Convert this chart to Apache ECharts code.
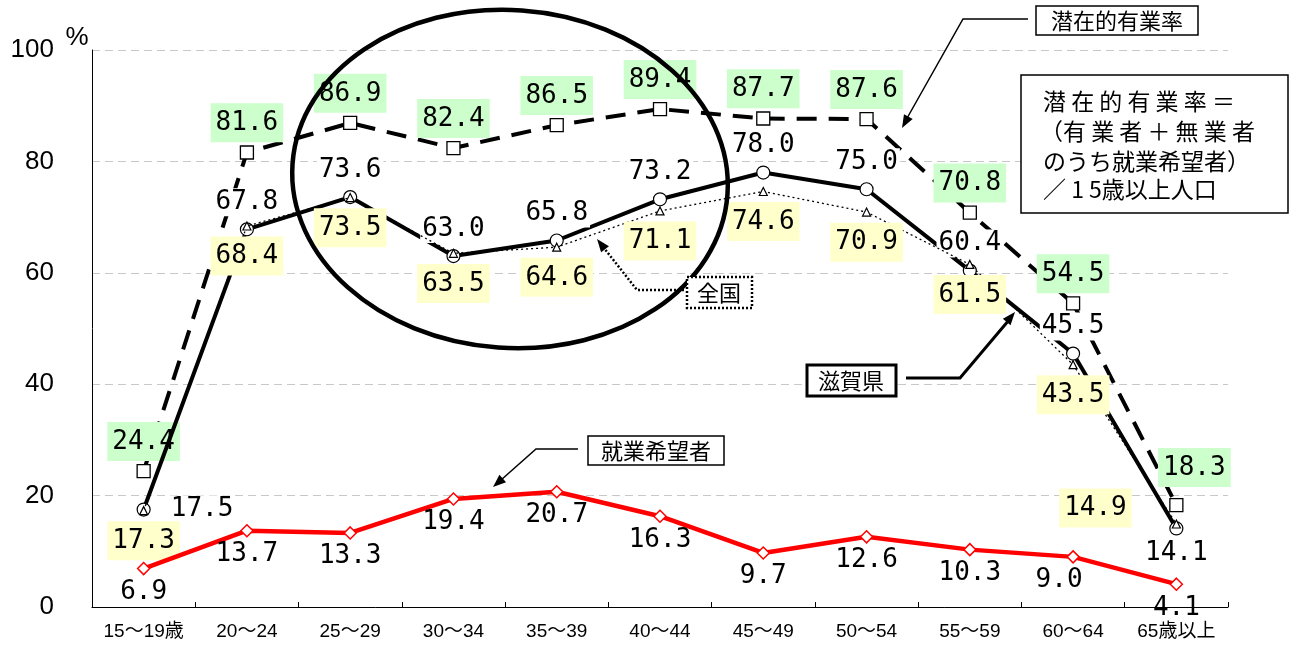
<!DOCTYPE html>
<html>
<head>
<meta charset="utf-8">
<title>潜在的有業率</title>
<script src="https://cdn.jsdelivr.net/npm/echarts@6/dist/echarts.min.js"></script>
<style>
  html, body { margin: 0; padding: 0; background: #fff; }
  #main { width: 1296px; height: 648px; }
</style>
</head>
<body>
<div id="main"></div>
<script>
// 年齢階級
var ages = ['15～19歳', '20～24', '25～29', '30～34', '35～39', '40～44', '45～49', '50～54', '55～59', '60～64', '65歳以上'];
// 潜在的有業率
var potential = [24.4, 81.6, 86.9, 82.4, 86.5, 89.4, 87.7, 87.6, 70.8, 54.5, 18.3];
// 滋賀県 有業率
var shiga = [17.5, 67.8, 73.6, 63.0, 65.8, 73.2, 78.0, 75.0, 60.4, 45.5, 14.1];
// 全国 有業率
var national = [17.3, 68.4, 73.5, 63.5, 64.6, 71.1, 74.6, 70.9, 61.5, 43.5, 14.9];
// 就業希望者
var seekers = [6.9, 13.7, 13.3, 19.4, 20.7, 16.3, 9.7, 12.6, 10.3, 9.0, 4.1];

var numFont = '"DejaVu Sans Mono", monospace';
var jpFont = '"Noto Sans CJK JP", sans-serif';

function fmt(p) { return p.value.toFixed(1); }

// 矢印の頭
function arrowHead(x1, y1, x2, y2) {
    var a = Math.atan2(y2 - y1, x2 - x1), L = 13, W = 5;
    var bx = x2 - L * Math.cos(a), by = y2 - L * Math.sin(a);
    return {
        type: 'polygon', z: 100,
        shape: { points: [[x2, y2], [bx + W * Math.sin(a), by - W * Math.cos(a)], [bx - W * Math.sin(a), by + W * Math.cos(a)]] },
        style: { fill: '#000' }
    };
}

function withLabel(arr, overrides) {
    return arr.map(function (v, i) {
        return overrides[i] ? { value: v, label: overrides[i] } : v;
    });
}

var chart = echarts.init(document.getElementById('main'));

var option = {
    backgroundColor: '#fff',
    animation: false,
    grid: { left: 92, right: 68, top: 50, bottom: 41 },
    xAxis: {
        type: 'category',
        data: ages,
        boundaryGap: true,
        axisLine: { lineStyle: { color: '#000', width: 1 } },
        axisTick: { show: true, inside: true, length: 5, lineStyle: { color: '#000' } },
        axisLabel: { color: '#000', fontSize: 19, margin: 15, fontFamily: '"Liberation Sans", "Noto Sans CJK JP", sans-serif', interval: 0 },
        splitLine: { show: false }
    },
    yAxis: {
        type: 'value',
        min: 0, max: 100, interval: 20,
        axisLine: { show: true, lineStyle: { color: '#000', width: 1 } },
        axisTick: { show: false },
        axisLabel: { color: '#000', fontSize: 26, margin: 38, fontFamily: '"Liberation Sans", Arial, sans-serif' },
        splitLine: { show: true, lineStyle: { color: '#c8c8c8', type: [8, 5], width: 1 } }
    },
    series: [
        {
            name: '潜在的有業率',
            type: 'line',
            data: withLabel(potential, { 10: { offset: [18, -8] } }),
            symbol: 'rect', symbolSize: 13,
            itemStyle: { color: '#fff', borderColor: '#000', borderWidth: 1.3 },
            lineStyle: { color: '#000', width: 4, type: [20, 12] },
            label: {
                show: true, position: 'top', distance: 3, formatter: fmt,
                fontFamily: numFont, fontSize: 26, color: '#000', lineHeight: 30,
                backgroundColor: '#ccffcc', padding: [5, 5, 4, 5]
            },
            z: 3
        },
        {
            name: '滋賀県',
            type: 'line',
            data: withLabel(shiga, {
                0: { position: 'right', distance: 18 },
                10: { position: 'bottom', distance: 4 }
            }),
            symbol: 'circle', symbolSize: 13,
            itemStyle: { color: '#fff', borderColor: '#000', borderWidth: 1.2 },
            lineStyle: { color: '#000', width: 4 },
            label: {
                show: true, position: 'top', distance: 6, formatter: fmt,
                fontFamily: numFont, fontSize: 26, color: '#000', lineHeight: 28,
                backgroundColor: '#fff', padding: [0, 2]
            },
            z: 4
        },
        {
            name: '全国',
            type: 'line',
            data: withLabel(national, { 10: { position: 'left', distance: 40, offset: [0, -16] } }),
            symbol: 'triangle', symbolSize: 8,
            itemStyle: { color: '#fff', borderColor: '#000', borderWidth: 1.2 },
            lineStyle: { color: '#000', width: 1.3, type: [2, 3] },
            label: {
                show: true, position: 'bottom', distance: 6, formatter: fmt,
                fontFamily: numFont, fontSize: 26, color: '#000', lineHeight: 30,
                backgroundColor: '#ffffcc', padding: [5, 5, 4, 5]
            },
            z: 5
        },
        {
            name: '就業希望者',
            type: 'line',
            data: withLabel(seekers, { 9: { offset: [-14, 0] } }),
            symbol: 'diamond', symbolSize: 12,
            itemStyle: { color: '#fff', borderColor: '#ff0000', borderWidth: 1.5 },
            lineStyle: { color: '#ff0000', width: 4.5 },
            label: {
                show: true, position: 'bottom', distance: 3, formatter: fmt,
                fontFamily: numFont, fontSize: 26, color: '#000', lineHeight: 28
            },
            z: 6
        }
    ],
    graphic: [
        // 単位
        { type: 'text', z: 100, x: 77, y: 38, style: { text: '%', font: '26px "Liberation Sans", Arial, sans-serif', fill: '#000', textAlign: 'center', textVerticalAlign: 'middle' } },
        // 楕円
        { type: 'ellipse', z: 100, x: 510, y: 179, rotation: -0.07, shape: { cx: 0, cy: 0, rx: 218, ry: 169 }, style: { fill: 'none', stroke: '#000', lineWidth: 4.5 } },

        // 潜在的有業率 吹き出し
        { type: 'rect', z: 100, shape: { x: 1036, y: 6, width: 162, height: 29 }, style: { fill: '#fff', stroke: '#000', lineWidth: 1.5 } },
        { type: 'text', z: 101, x: 1117, y: 21, style: { text: '潜在的有業率', font: '22px ' + jpFont, fill: '#000', textAlign: 'center', textVerticalAlign: 'middle' } },
        { type: 'polyline', z: 100, shape: { points: [[1028, 19], [963, 19], [906, 120]] }, style: { stroke: '#000', lineWidth: 1.5, fill: 'none' } },
        arrowHead(963, 19, 902, 128),

        // 定義の枠
        { type: 'rect', z: 100, shape: { x: 1021, y: 75, width: 267, height: 138 }, style: { fill: '#fff', stroke: '#000', lineWidth: 1.5 } },
        { type: 'text', z: 101, x: 1043, y: 101, style: { text: '潜 在 的 有 業 率 ＝', font: '23px ' + jpFont, fill: '#000', textVerticalAlign: 'middle' } },
        { type: 'text', z: 101, x: 1040, y: 131, style: { text: '（有 業 者 ＋ 無 業 者', font: '23px ' + jpFont, fill: '#000', textVerticalAlign: 'middle' } },
        { type: 'text', z: 101, x: 1043, y: 161, style: { text: 'のうち就業希望者）', font: '23px ' + jpFont, fill: '#000', textVerticalAlign: 'middle' } },
        { type: 'text', z: 101, x: 1043, y: 189, style: { text: '／ 1 5歳以上人口', font: '23px ' + jpFont, fill: '#000', textVerticalAlign: 'middle' } },

        // 全国 吹き出し
        { type: 'rect', z: 100, shape: { x: 687, y: 277, width: 65, height: 31 }, style: { fill: '#fff', stroke: '#000', lineWidth: 2.5, lineDash: [2, 2] } },
        { type: 'text', z: 101, x: 719, y: 293, style: { text: '全国', font: '22px ' + jpFont, fill: '#000', textAlign: 'center', textVerticalAlign: 'middle' } },
        { type: 'polyline', z: 100, shape: { points: [[684, 290], [637, 290], [604, 248]] }, style: { stroke: '#000', lineWidth: 2.5, lineDash: [2, 2], fill: 'none' } },
        arrowHead(637, 290, 597, 239),

        // 滋賀県 吹き出し
        { type: 'rect', z: 100, shape: { x: 807, y: 365, width: 89, height: 31 }, style: { fill: '#fff', stroke: '#000', lineWidth: 3 } },
        { type: 'text', z: 101, x: 851, y: 381, style: { text: '滋賀県', font: '22px ' + jpFont, fill: '#000', textAlign: 'center', textVerticalAlign: 'middle' } },
        { type: 'polyline', z: 100, shape: { points: [[906, 378], [960, 378], [1009, 320]] }, style: { stroke: '#000', lineWidth: 3, fill: 'none' } },
        arrowHead(960, 378, 1015, 312),

        // 就業希望者 吹き出し
        { type: 'rect', z: 100, shape: { x: 588, y: 436, width: 136, height: 29 }, style: { fill: '#fff', stroke: '#000', lineWidth: 1.5 } },
        { type: 'text', z: 101, x: 656, y: 451, style: { text: '就業希望者', font: '22px ' + jpFont, fill: '#000', textAlign: 'center', textVerticalAlign: 'middle' } },
        { type: 'polyline', z: 100, shape: { points: [[578, 449], [536, 449], [501, 480]] }, style: { stroke: '#000', lineWidth: 1.5, fill: 'none' } },
        arrowHead(536, 449, 493, 487)
    ]
};

chart.setOption(option);
</script>
</body>
</html>
